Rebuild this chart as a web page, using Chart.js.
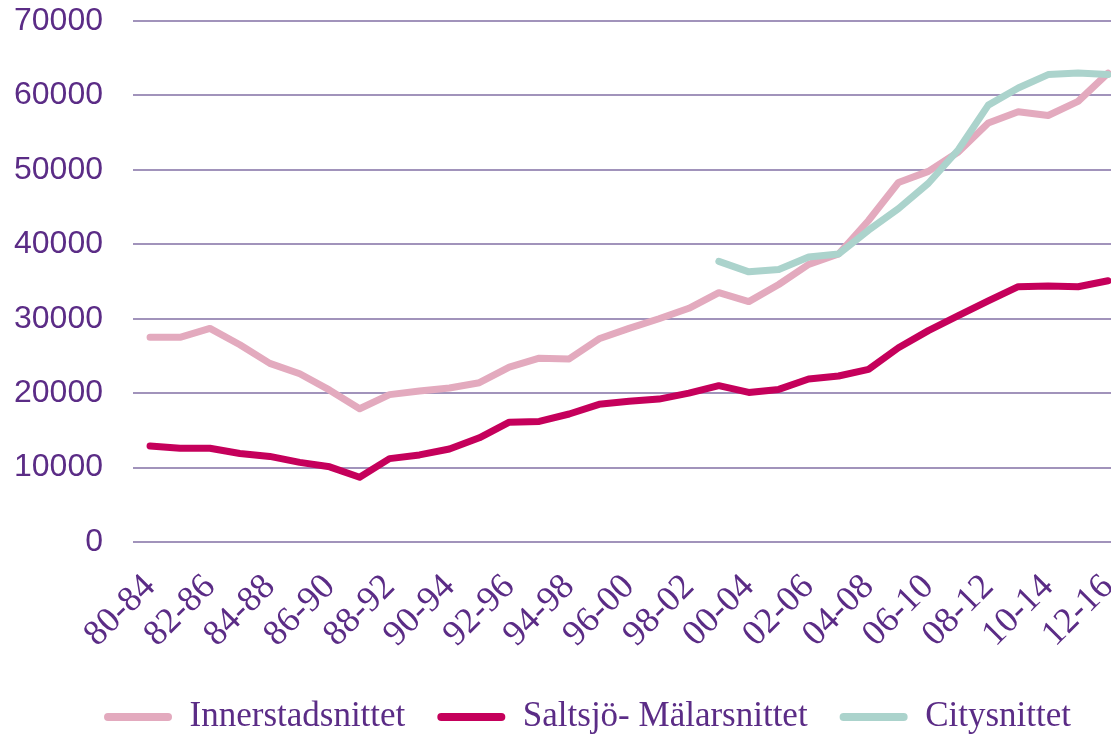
<!DOCTYPE html>
<html>
<head>
<meta charset="utf-8">
<script src="https://cdn.jsdelivr.net/npm/chart.js@4.4.0/dist/chart.umd.min.js"></script>
<style>
    html, body { margin: 0; padding: 0; background: #fff; overflow: hidden; }
    #wrap { width: 1111px; height: 736px; }
</style>
</head>
<body>
<div id="wrap"><canvas id="chart" width="1111" height="736"></canvas></div>
<script>
// perioder (femårsintervall)
const periods = [
    '80-84', '81-85', '82-86', '83-87', '84-88', '85-89', '86-90', '87-91', '88-92', '89-93',
    '90-94', '91-95', '92-96', '93-97', '94-98', '95-99', '96-00', '97-01', '98-02', '99-03',
    '00-04', '01-05', '02-06', '03-07', '04-08', '05-09', '06-10', '07-11', '08-12', '09-13',
    '10-14', '11-15', '12-16'
];

const innerstad = [
    27500, 27500, 28700, 26500, 24000, 22600, 20400, 17900, 19800, 20300,
    20700, 21400, 23500, 24700, 24600, 27300, 28700, 30000, 31400, 33500,
    32300, 34600, 37300, 38700, 43200, 48300, 49800, 52400, 56300, 57800,
    57300, 59200, 63000
];

const saltsjo = [
    12900, 12600, 12600, 11900, 11500, 10700, 10100, 8700, 11200, 11700,
    12500, 14000, 16100, 16200, 17200, 18500, 18900, 19200, 20000, 21000,
    20100, 20500, 21900, 22300, 23200, 26100, 28400, 30400, 32400, 34300,
    34400, 34300, 35100
];

const city = [
    null, null, null, null, null, null, null, null, null, null,
    null, null, null, null, null, null, null, null, null, 37700,
    36300, 36600, 38300, 38700, 41900, 44800, 48200, 52700, 58700, 61000,
    62800, 63000, 62800
];

const yMax = 70000;
const yStep = 10000;
const labelStep = 2;

const purple = '#5b2c86';
const gridColor = '#a193bb';

function toPoints(values) {
    return values.map((v, i) => ({ x: i, y: v }));
}

function lineSet(label, values, color, order) {
    return {
        label: label,
        data: toPoints(values),
        borderColor: color,
        backgroundColor: color,
        borderWidth: 7,
        borderJoinStyle: 'round',
        borderCapStyle: 'round',
        pointRadius: 0,
        tension: 0,
        order: order
    };
}

// flytta legenden lite åt höger, som i originalet
const legendShift = {
    id: 'legendShift',
    afterLayout(chart) {
        if (chart.legend) chart.legend.left += 64;
    }
};

const ctx = document.getElementById('chart').getContext('2d');

new Chart(ctx, {
    type: 'line',
    data: {
        datasets: [
            lineSet('Innerstadsnittet', innerstad, '#e3aabe', 2),
            lineSet('Saltsjö- Mälarsnittet', saltsjo, '#c5005b', 1),
            lineSet('Citysnittet', city, '#abd3cc', 0)
        ]
    },
    plugins: [legendShift],
    options: {
        responsive: false,
        animation: false,
        layout: { padding: { left: 0, right: 0, top: 21, bottom: -8.5 } },
        scales: {
            x: {
                type: 'linear',
                min: -0.57,
                max: 32.1,
                grid: { display: false },
                border: { display: false },
                ticks: {
                    stepSize: labelStep,
                    includeBounds: false,
                    autoSkip: false,
                    minRotation: 45,
                    maxRotation: 45,
                    padding: 16,
                    color: purple,
                    font: { family: 'Liberation Serif', size: 36 },
                    callback: function (value) { return periods[value]; }
                },
                afterFit: function (axis) {
                    axis.height = 125.5;
                    axis.paddingLeft = 0;
                    axis.paddingRight = 0;
                }
            },
            y: {
                min: 0,
                max: yMax,
                grid: { color: gridColor, lineWidth: 2, drawTicks: false },
                border: { display: false },
                ticks: {
                    stepSize: yStep,
                    padding: 30,
                    color: purple,
                    font: { family: 'Liberation Sans', size: 32 },
                    callback: function (value) { return String(value); }
                },
                afterFit: function (axis) {
                    axis.width = 133;
                    axis.paddingTop = 0;
                    axis.paddingBottom = 0;
                }
            }
        },
        plugins: {
            tooltip: { enabled: false },
            legend: {
                position: 'bottom',
                labels: {
                    color: purple,
                    font: { family: 'Liberation Serif', size: 35 },
                    boxWidth: 68,
                    boxHeight: 8,
                    padding: 32,
                    useBorderRadius: true,
                    borderRadius: 4,
                    sort: (a, b) => a.datasetIndex - b.datasetIndex,
                    generateLabels: function (chart) {
                        const items = Chart.defaults.plugins.legend.labels.generateLabels(chart);
                        items.forEach(item => {
                            item.fillStyle = item.strokeStyle;
                            item.lineWidth = 0;
                        });
                        return items;
                    }
                }
            }
        }
    }
});
</script>
</body>
</html>
